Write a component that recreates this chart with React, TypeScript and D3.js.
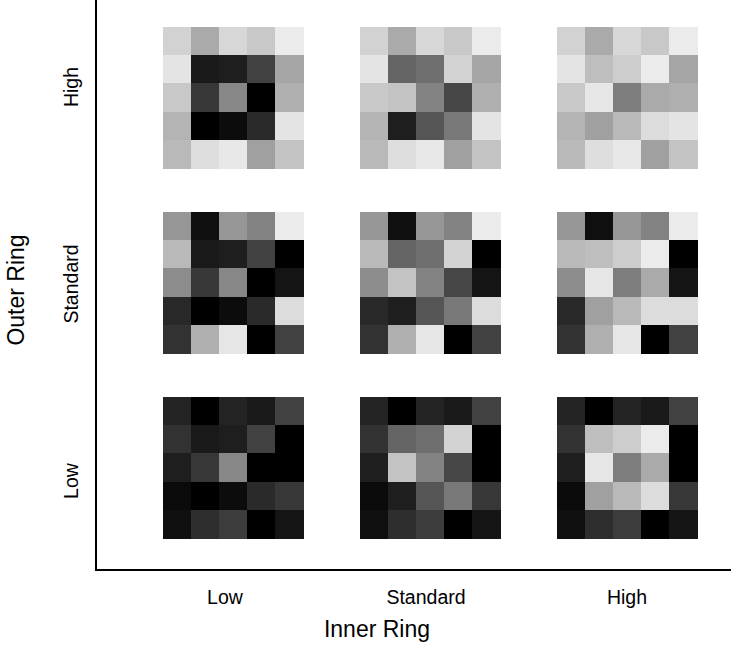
import React from "react";
import * as d3 from "d3";

const innerLevels = ["Low", "Standard", "High"];
const outerLevels = ["High", "Standard", "Low"];

// Outer ring of each 5x5 image (center 3x3 is null) per Outer Ring level
const outerHigh: (number | null)[][] = [
  [210, 170, 215, 200, 235],
  [228, null, null, null, 165],
  [200, null, null, null, 175],
  [180, null, null, null, 228],
  [185, 222, 232, 160, 195],
];
const outerStandard: (number | null)[][] = [
  [150, 15, 150, 130, 235],
  [185, null, null, null, 0],
  [140, null, null, null, 20],
  [40, null, null, null, 220],
  [50, 175, 230, 0, 65],
];
const outerLow: (number | null)[][] = [
  [35, 0, 35, 25, 65],
  [50, null, null, null, 0],
  [30, null, null, null, 0],
  [10, null, null, null, 55],
  [15, 45, 60, 0, 20],
];

// Inner 3x3 core per Inner Ring level
const innerLow = [
  [25, 30, 65],
  [55, 135, 0],
  [0, 12, 42],
];
const innerStandard = [
  [100, 110, 210],
  [195, 130, 70],
  [30, 85, 120],
];
const innerHigh = [
  [190, 205, 235],
  [230, 125, 170],
  [160, 185, 220],
];

const outerByLevel: Record<string, (number | null)[][]> = {
  High: outerHigh,
  Standard: outerStandard,
  Low: outerLow,
};
const innerByLevel: Record<string, number[][]> = {
  Low: innerLow,
  Standard: innerStandard,
  High: innerHigh,
};

const W = 731;
const H = 645;
const FONT = "'Liberation Sans', Arial, sans-serif";

export default function App() {
  const xCenter = d3.scalePoint<string>().domain(innerLevels).range([233, 627]);
  const yCenter = d3.scalePoint<string>().domain(outerLevels).range([97.5, 467.5]);
  const xLabel = d3.scalePoint<string>().domain(innerLevels).range([225, 627]);
  const yLabel = d3.scalePoint<string>().domain(outerLevels).range([87, 481]);
  const cell = d3.scaleBand<number>().domain(d3.range(5)).range([-70.5, 70.5]).padding(0);
  const gray = d3.scaleLinear<string>().domain([0, 255]).range(["#000000", "#ffffff"]);

  const cells: { key: string; x: number; y: number; v: number }[] = [];
  outerLevels.forEach((o) => {
    innerLevels.forEach((inn) => {
      const outer = outerByLevel[o];
      const inner = innerByLevel[inn];
      for (let r = 0; r < 5; r++) {
        for (let c = 0; c < 5; c++) {
          const isInner = r >= 1 && r <= 3 && c >= 1 && c <= 3;
          const v = isInner ? inner[r - 1][c - 1] : (outer[r][c] as number);
          cells.push({
            key: `${o}-${inn}-${r}-${c}`,
            x: (xCenter(inn) as number) + (cell(c) as number),
            y: (yCenter(o) as number) + (cell(r) as number),
            v,
          });
        }
      }
    });
  });

  const bw = cell.bandwidth();

  return (
    <svg width={W} height={H} style={{ position: "absolute", left: 0, top: 0 }}>
      <rect width={W} height={H} fill="#fff" />
      {cells.map((d) => (
        <rect
          key={d.key}
          x={d.x}
          y={d.y}
          width={bw + 0.5}
          height={bw + 0.5}
          fill={gray(d.v)}
          shapeRendering="crispEdges"
        />
      ))}
      <line x1={96} y1={0} x2={96} y2={571} stroke="#000" strokeWidth={2} />
      <line x1={95} y1={570} x2={731} y2={570} stroke="#000" strokeWidth={2} />
      {innerLevels.map((l) => (
        <text
          key={l}
          x={xLabel(l)}
          y={604}
          textAnchor="middle"
          fontFamily={FONT}
          fontSize={19.5}
          fill="#000"
        >
          {l}
        </text>
      ))}
      {outerLevels.map((l) => (
        <text
          key={l}
          transform={`translate(78, ${yLabel(l)}) rotate(-90)`}
          textAnchor="middle"
          fontFamily={FONT}
          fontSize={19.5}
          fill="#000"
        >
          {l}
        </text>
      ))}
      <text x={377} y={637} textAnchor="middle" fontFamily={FONT} fontSize={23} fill="#000">
        Inner Ring
      </text>
      <text
        transform="translate(24, 290) rotate(-90)"
        textAnchor="middle"
        fontFamily={FONT}
        fontSize={23}
        fill="#000"
      >
        Outer Ring
      </text>
    </svg>
  );
}
